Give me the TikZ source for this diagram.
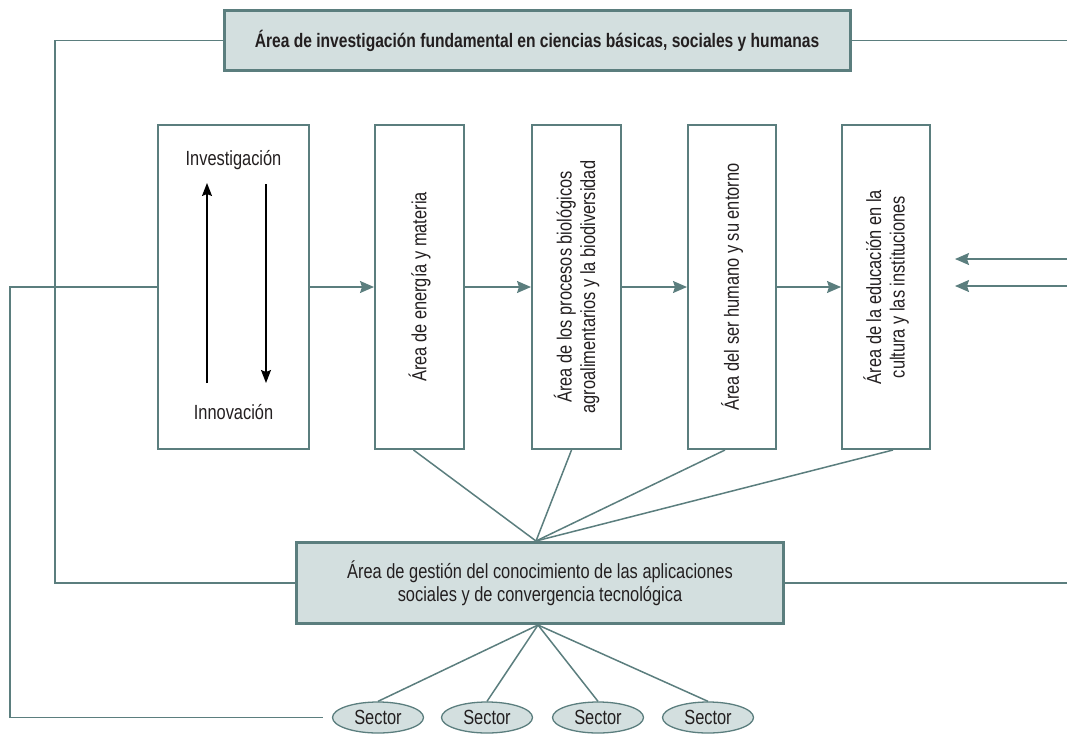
\documentclass[tikz,border=0pt]{standalone}
\usepackage{fontspec}
\setmainfont{Liberation Sans}[FakeStretch=0.8]
\usetikzlibrary{arrows.meta,calc,shapes.geometric}
\definecolor{teal1}{HTML}{5B7E7E}
\definecolor{fillc}{HTML}{D3DFDF}
\definecolor{txt}{HTML}{231F20}
\tikzset{
  every node/.style={text=txt, font=\fontsize{20.5}{23.5}\selectfont},
  thickbox/.style={draw=teal1, line width=3pt, fill=fillc, inner sep=0pt, align=center},
  thinbox/.style={draw=teal1, line width=2pt, fill=white, inner sep=0pt, align=center},
  sect/.style={ellipse, draw=teal1, line width=1.3pt, fill=fillc, minimum width=91pt, minimum height=31pt, inner sep=0pt},
  conn/.style={draw=teal1, line width=1.5pt},
  arr/.style={conn, -{Stealth[length=14pt,width=12pt,inset=2pt]}},
  blk/.style={draw=black, line width=1.3pt, -{Stealth[length=13pt,width=10pt,inset=2pt]}},
}
\begin{document}
\begin{tikzpicture}[x=1pt,y=-1pt]
\useasboundingbox (0,0) rectangle (1067,734);
% top box
\node[thickbox, minimum width=626pt, minimum height=60pt, font=\fontsize{19.5}{22}\selectfont\bfseries] (top) at (537,40.5)
  {Área de investigación fundamental en ciencias básicas, sociales y humanas};
% column boxes
\node[thinbox, minimum width=151pt, minimum height=324pt] (inv) at (233.5,287) {};
\node[thinbox, minimum width=89pt, minimum height=324pt] (ener) at (419.5,287) {};
\node[thinbox, minimum width=89pt, minimum height=324pt] (proc) at (576.5,287) {};
\node[thinbox, minimum width=88pt, minimum height=324pt] (ser) at (732,287) {};
\node[thinbox, minimum width=88pt, minimum height=324pt] (edu) at (886,287) {};
\node[rotate=90, align=center] (tener) at (ener) {Área de energía y materia};
\node[rotate=90, align=center] (tproc) at (proc) {Área de los procesos biológicos\\agroalimentarios y la biodiversidad};
\node[rotate=90, align=center] (tser) at (ser) {Área del ser humano y su entorno};
\node[rotate=90, align=center] (tedu) at (edu) {Área de la educación en la\\cultura y las instituciones};
% inside inv box
\node (tinv) at (233.5,160) {Investigación};
\node (tinn) at (233.5,412) {Innovación};
\coordinate (u1) at (207,383);
\coordinate (u2) at (207,183);
\coordinate (d1) at (266,184);
\coordinate (d2) at (266,383);
\draw[blk] (u1) -- (u2);
\draw[blk] (d1) -- (d2);
% bottom box
\node[thickbox, minimum width=487pt, minimum height=81pt] (gest) at (540,583)
  {Área de gestión del conocimiento de las aplicaciones\\sociales y de convergencia tecnológica};
% sectors
\node[sect] (s1) at (378,717.5) {Sector};
\node[sect] (s2) at (487,717.5) {Sector};
\node[sect] (s3) at (598,717.5) {Sector};
\node[sect] (s4) at (708,717.5) {Sector};
% arrows between columns
\draw[arr] (inv) -- (ener);
\draw[arr] (ener) -- (proc);
\draw[arr] (proc) -- (ser);
\draw[arr] (ser) -- (edu);
% incoming arrows on right
\coordinate (r1) at (1067,259);
\coordinate (r2) at (1067,286);
\coordinate (r1e) at (955,259);
\coordinate (r2e) at (955,286);
\draw[arr] (r1) -- (r1e);
\draw[arr] (r2) -- (r2e);
% convergence lines
\coordinate (cv) at ([xshift=-4pt]gest.north);
\draw[conn] ([xshift=-6pt]ener.south) -- (cv);
\draw[conn] ([xshift=-5pt]proc.south) -- (cv);
\draw[conn] ([xshift=-7pt]ser.south) -- (cv);
\draw[conn] ([xshift=7pt]edu.south) -- (cv);
\coordinate (cb) at ([xshift=-2pt]gest.south);
\draw[conn] (cb) -- (s1.north);
\draw[conn] (cb) -- (s2.north);
\draw[conn] (cb) -- (s3.north);
\draw[conn] (cb) -- (s4.north);
% loops
\coordinate (tl) at (55,40.5);
\draw[conn] (top.west) -- (tl) |- (gest.west);
\coordinate (tr) at (1067,40.5);
\draw[conn] (top.east) -- (tr);
\coordinate (gr) at (1067,583);
\draw[conn] (gest.east) -- (gr);
\coordinate (ll) at (10,287);
\draw[conn, shorten >=9pt] (inv.west) -- (ll) |- (s1.west);
\end{tikzpicture}
\end{document}
